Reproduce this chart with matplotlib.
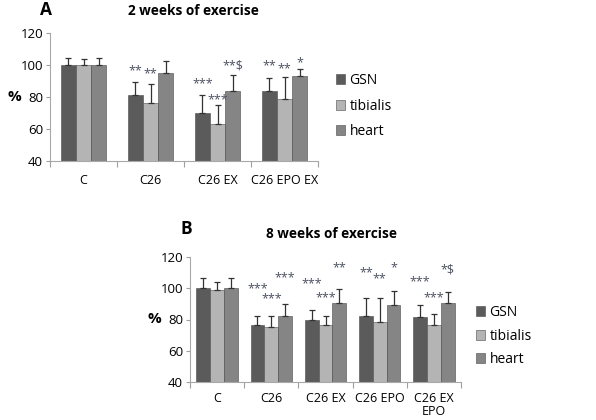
import numpy as np
import matplotlib.pyplot as plt

plt.rcParams['font.family'] = ['Open Sans', 'DejaVu Sans']

series = ['GSN', 'tibialis', 'heart']
colors = ['#5b5b5b', '#b4b4b4', '#858585']

# panel A: 2 weeks
cats_a = ['C', 'C26', 'C26 EX', 'C26 EPO EX']
mean_a = [[100, 81, 70, 84],
          [100, 76, 63, 79],
          [100, 95, 84, 93]]
err_a = [[4.5, 8.5, 11, 8],
         [3.5, 12, 12, 13.5],
         [4.5, 7.5, 9.5, 4.5]]
stars_a = [['', '**', '***', '**'],
           ['', '**', '***', '**'],
           ['', '', '**$', '*']]
star_y_a = [[0, 92.5, 84.5, 95.5],
            [0, 90.5, 74.5, 93.5],
            [0, 0, 95.5, 97.5]]

# panel B: 8 weeks
cats_b = ['C', 'C26', 'C26 EX', 'C26 EPO', 'C26 EX\nEPO']
mean_b = [[100, 76.5, 79.5, 82.5, 81.5],
          [99, 75, 76.5, 78.5, 76.5],
          [100, 82, 90.5, 89, 90.5]]
err_b = [[6.5, 6, 6.5, 11.5, 8],
         [5, 7, 5.5, 15.5, 7],
         [6.5, 8, 9, 9, 7]]
stars_b = [['', '***', '***', '**', '***'],
           ['', '***', '***', '**', '***'],
           ['', '***', '**', '*', '*$']]
star_y_b = [[0, 95.5, 99, 105.5, 100],
            [0, 89, 90, 102, 90],
            [0, 102.5, 109, 109, 107.5]]


def panel(ax, cats, means, errs, stars, star_y, width, pad):
    x = np.arange(len(cats))
    for i, name in enumerate(series):
        pos = x + (i - 1) * width
        m = np.array(means[i])
        e = np.array(errs[i])
        ax.bar(pos, m - 40, width, bottom=40, color=colors[i], edgecolor='#4a4a4a',
               linewidth=0.4, label=name, zorder=2)
        ax.errorbar(pos, m, yerr=[np.zeros_like(e), e], fmt='none', ecolor='#333333',
                    elinewidth=0.9, capsize=2.5, capthick=0.9, zorder=3)
        for p, s, yy in zip(pos, stars[i], star_y[i]):
            if s:
                ax.text(p, yy, s, ha='center', va='bottom', fontsize=9,
                        color='#4a5060', zorder=4)
    ax.set_ylim(40, 120)
    ax.set_xlim(-0.5, len(cats) - 0.5)
    ax.set_yticks([40, 60, 80, 100, 120])
    ax.set_xticks(x)
    ax.set_xticklabels(cats, fontsize=9, linespacing=1.05)
    ax.set_xticks(np.arange(len(cats) + 1) - 0.5, minor=True)
    ax.tick_params(axis='x', which='major', length=0, pad=pad)
    ax.tick_params(axis='x', which='minor', length=4, color='#a0a0a0', width=0.8)
    ax.tick_params(axis='y', labelsize=9.5, length=3, color='#a0a0a0', width=0.8, pad=2)
    for s in ['top', 'right']:
        ax.spines[s].set_visible(False)
    for s in ['left', 'bottom']:
        ax.spines[s].set_color('#a8a8a8')
        ax.spines[s].set_linewidth(0.8)


fig = plt.figure(figsize=(5.96, 4.2), dpi=100)

ax_a = fig.add_axes([50 / 596, 1 - 161 / 420, 268 / 596, 128 / 420])
panel(ax_a, cats_a, mean_a, err_a, stars_a, star_y_a, 0.225, 9)
ax_a.legend(loc='center left', bbox_to_anchor=(323 / 596, 1 - 106 / 420),
            bbox_transform=fig.transFigure, frameon=False, fontsize=10,
            handlelength=0.7, handleheight=0.7, handletextpad=0.3, labelspacing=0.75)

ax_b = fig.add_axes([190 / 596, 1 - 382 / 420, 271 / 596, 125 / 420])
panel(ax_b, cats_b, mean_b, err_b, stars_b, star_y_b, 0.255, 7)
ax_b.legend(loc='center left', bbox_to_anchor=(463 / 596, 1 - 336 / 420),
            bbox_transform=fig.transFigure, frameon=False, fontsize=10,
            handlelength=0.7, handleheight=0.7, handletextpad=0.3, labelspacing=0.6)

fig.text(40 / 596, 1 - 10 / 420, 'A', fontsize=12.5, fontweight='bold', va='center')
fig.text(193 / 596, 1 - 11 / 420, '2 weeks of exercise', fontsize=9.8, fontweight='bold',
         ha='center', va='center')
fig.text(8 / 596, 1 - 97 / 420, '%', fontsize=11, fontweight='bold', va='center')

fig.text(181 / 596, 1 - 229 / 420, 'B', fontsize=12.5, fontweight='bold', va='center')
fig.text(332 / 596, 1 - 234 / 420, '8 weeks of exercise', fontsize=9.8, fontweight='bold',
         ha='center', va='center')
fig.text(147 / 596, 1 - 319 / 420, '%', fontsize=11, fontweight='bold', va='center')

fig.savefig('out.png', dpi=100)
